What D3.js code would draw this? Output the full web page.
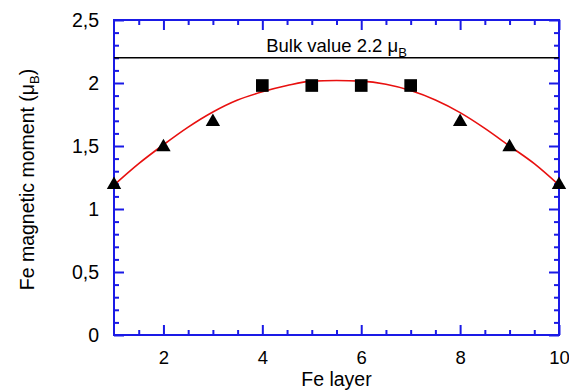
<!DOCTYPE html>
<html>
<head>
<meta charset="utf-8">
<script src="https://cdn.jsdelivr.net/npm/d3@7"></script>
<style>
  body { margin: 0; background: #fff; }
  svg { display: block; font-family: "Liberation Sans", Arial, sans-serif; }
</style>
</head>
<body>
<svg id="chart" width="569" height="391"></svg>
<script>
// data
let triangleLayers = [1, 2, 3, 8, 9, 10];
let triangleMoments = [1.2, 1.5, 1.7, 1.7, 1.5, 1.2];
let squareLayers = [4, 5, 6, 7];
let squareMoments = [1.98, 1.98, 1.98, 1.98];
let fitLayers = [1, 1.5, 2, 2.5, 3, 3.5, 4, 4.5, 5, 5.5, 6, 6.5, 7, 7.5, 8, 8.5, 9, 9.5, 10];
let fitMoments = [1.19, 1.36, 1.51, 1.65, 1.77, 1.865, 1.93, 1.98, 2.015, 2.02, 2.015, 1.99, 1.94, 1.865, 1.765, 1.64, 1.5, 1.36, 1.19];
let bulkValue = 2.2;
let xTicks = [2, 4, 6, 8, 10];
let yTicks = [0, 0.5, 1, 1.5, 2, 2.5];

let margin = {top: 20, right: 10, bottom: 56, left: 114};
let width = 569, height = 391;
let axisColor = '#1a1ae6';

let svg = d3.select('#chart');

let xScale = d3.scaleLinear()
    .domain([1, 10])
    .range([margin.left, width - margin.right]);

let yScale = d3.scaleLinear()
    .domain([0, 2.5])
    .range([height - margin.bottom, margin.top]);

let fmt = d => String(d).replace('.', ',');

// minor ticks
let xMinor = d3.range(1.5, 10, 0.5).filter(v => v % 2 !== 0);
let yMinor = d3.range(0.1, 2.5, 0.1).filter(v => Math.abs(v * 2 - Math.round(v * 2)) > 0.01);

function styleAxis(g) {
    g.select('.domain').remove();
    g.selectAll('line').attr('stroke', axisColor).attr('stroke-width', 2);
    g.selectAll('text').attr('fill', '#000');
}

// bottom axis
svg.append('g')
    .attr('transform', `translate(0, ${yScale(0)})`)
    .call(d3.axisBottom(xScale).tickValues(xTicks).tickSize(-10).tickPadding(16).tickFormat(fmt))
    .call(styleAxis)
    .call(g => g.selectAll('text').attr('font-size', 18.5));
svg.append('g')
    .attr('transform', `translate(0, ${yScale(0)})`)
    .call(d3.axisBottom(xScale).tickValues(xMinor).tickSize(-5).tickFormat(''))
    .call(styleAxis);

// top axis
svg.append('g')
    .attr('transform', `translate(0, ${yScale(2.5)})`)
    .call(d3.axisTop(xScale).tickValues(xTicks).tickSize(-10).tickFormat(''))
    .call(styleAxis);
svg.append('g')
    .attr('transform', `translate(0, ${yScale(2.5)})`)
    .call(d3.axisTop(xScale).tickValues(xMinor).tickSize(-5).tickFormat(''))
    .call(styleAxis);

// left axis
svg.append('g')
    .attr('transform', `translate(${xScale(1)}, 0)`)
    .call(d3.axisLeft(yScale).tickValues(yTicks).tickSize(-10).tickPadding(15).tickFormat(fmt))
    .call(styleAxis)
    .call(g => g.selectAll('text').attr('font-size', 19.5));
svg.append('g')
    .attr('transform', `translate(${xScale(1)}, 0)`)
    .call(d3.axisLeft(yScale).tickValues(yMinor).tickSize(-5).tickFormat(''))
    .call(styleAxis);

// right axis
svg.append('g')
    .attr('transform', `translate(${xScale(10)}, 0)`)
    .call(d3.axisRight(yScale).tickValues(yTicks).tickSize(-10).tickFormat(''))
    .call(styleAxis);
svg.append('g')
    .attr('transform', `translate(${xScale(10)}, 0)`)
    .call(d3.axisRight(yScale).tickValues(yMinor).tickSize(-5).tickFormat(''))
    .call(styleAxis);

// frame
svg.append('rect')
    .attr('x', xScale(1))
    .attr('y', yScale(2.5))
    .attr('width', xScale(10) - xScale(1))
    .attr('height', yScale(0) - yScale(2.5))
    .attr('fill', 'none')
    .attr('stroke', axisColor)
    .attr('stroke-width', 2);

// bulk value line
svg.append('line')
    .attr('x1', xScale(1)).attr('x2', xScale(10))
    .attr('y1', yScale(bulkValue)).attr('y2', yScale(bulkValue))
    .attr('stroke', '#000')
    .attr('stroke-width', 1.5);

let bulkText = svg.append('text')
    .attr('x', (xScale(1) + xScale(10)) / 2)
    .attr('y', yScale(bulkValue) - 6)
    .attr('text-anchor', 'middle')
    .attr('font-size', 18.5);
bulkText.append('tspan').text('Bulk value 2.2 μ');
bulkText.append('tspan').attr('dy', 5).attr('font-size', 13).text('B');

// fit curve
let fitData = fitLayers.map((x, i) => ({x: x, y: fitMoments[i]}));
svg.append('path')
    .datum(fitData)
    .attr('fill', 'none')
    .attr('stroke', '#e8100f')
    .attr('stroke-width', 1.6)
    .attr('d', d3.line().x(d => xScale(d.x)).y(d => yScale(d.y)).curve(d3.curveMonotoneX));

// markers
svg.append('g').selectAll('path')
    .data(triangleLayers.map((x, i) => ({x: x, y: triangleMoments[i]})))
    .join('path')
    .attr('transform', d => `translate(${xScale(d.x)}, ${yScale(d.y) + 1})`)
    .attr('d', d3.symbol(d3.symbolTriangle, 90))
    .attr('fill', '#000');

svg.append('g').selectAll('path')
    .data(squareLayers.map((x, i) => ({x: x, y: squareMoments[i]})))
    .join('path')
    .attr('transform', d => `translate(${xScale(d.x)}, ${yScale(d.y)})`)
    .attr('d', d3.symbol(d3.symbolSquare, 160))
    .attr('fill', '#000');

// axis titles
svg.append('text')
    .attr('x', (xScale(1) + xScale(10)) / 2)
    .attr('y', height - 5)
    .attr('text-anchor', 'middle')
    .attr('font-size', 19.5)
    .text('Fe layer');

let yTitle = svg.append('text')
    .attr('transform', `translate(34, ${(yScale(0) + yScale(2.5)) / 2 + 2}) rotate(-90)`)
    .attr('text-anchor', 'middle')
    .attr('font-size', 19.5);
yTitle.append('tspan').text('Fe magnetic moment (μ');
yTitle.append('tspan').attr('dy', 5).attr('font-size', 13).text('B');
yTitle.append('tspan').attr('dy', -5).text(')');
</script>
</body>
</html>
